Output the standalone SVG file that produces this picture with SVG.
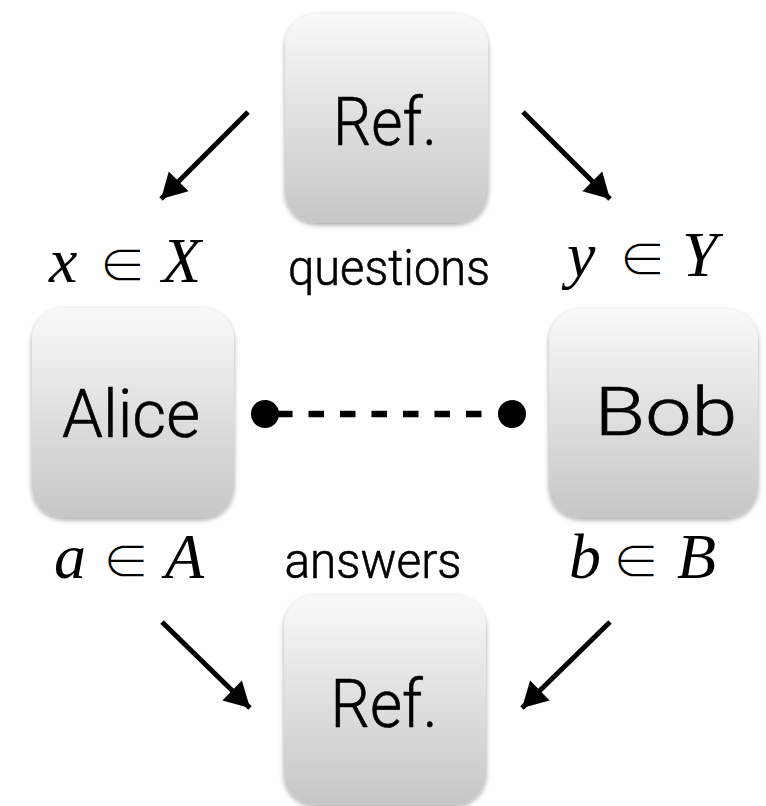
<svg xmlns="http://www.w3.org/2000/svg" width="766" height="806" viewBox="0 0 766 806">
  <defs>
    <linearGradient id="boxGrad" x1="0" y1="0" x2="0" y2="1">
      <stop offset="0" stop-color="#f9f9f9"/>
      <stop offset="1" stop-color="#c6c6c6"/>
    </linearGradient>
    <filter id="shadow" x="-10%" y="-10%" width="120%" height="125%">
      <feDropShadow dx="0" dy="2" stdDeviation="2.5" flood-color="#000" flood-opacity="0.35"/>
    </filter>
    <marker id="arrow" markerUnits="userSpaceOnUse" markerWidth="32" markerHeight="32" viewBox="0 0 32 32" refX="27" refY="16" orient="auto">
      <path d="M2,2 L27,16 L2,30 Z" fill="#000"/>
    </marker>
  </defs>
  <style>
    .box { fill: url(#boxGrad); filter: url(#shadow); }
    .label { font-family: Roboto, "Liberation Sans", sans-serif; font-weight: 300; fill: #000; stroke: #000; stroke-width: 0.6; }
    .big { font-size: 66px; }
    .small { font-size: 50px; }
    .math { font-family: "Liberation Serif", "DejaVu Serif", serif; font-style: italic; font-size: 64px; fill: #000; }
    .elem { font-family: "Noto Sans CJK JP", "DejaVu Sans", sans-serif; font-weight: 300; font-size: 47px; fill: #000; text-anchor: middle; }
    .conn { stroke: #000; stroke-width: 5; fill: none; }
  </style>

  <g id="ref-top">
    <rect class="box" x="285" y="14" width="203" height="209" rx="32"/>
    <text class="label big" x="385" y="145" text-anchor="middle" textLength="104" lengthAdjust="spacingAndGlyphs">Ref.</text>
  </g>
  <g id="alice">
    <rect class="box" x="32" y="308" width="202" height="210" rx="32"/>
    <text class="label big" x="131" y="437" text-anchor="middle" textLength="138" lengthAdjust="spacingAndGlyphs">Alice</text>
  </g>
  <g id="bob">
    <rect class="box" x="549" y="309" width="209" height="209" rx="32"/>
    <text class="label big" x="666" y="435" text-anchor="middle" textLength="143" lengthAdjust="spacingAndGlyphs">Bob</text>
  </g>
  <g id="ref-bottom">
    <rect class="box" x="284" y="595" width="202" height="210" rx="32"/>
    <text class="label big" x="384" y="727" text-anchor="middle" textLength="107" lengthAdjust="spacingAndGlyphs">Ref.</text>
  </g>

  <g id="labels">
    <text class="label small" x="389" y="285" text-anchor="middle" textLength="202" lengthAdjust="spacingAndGlyphs">questions</text>
    <text class="label small" x="373" y="578" text-anchor="middle" textLength="177" lengthAdjust="spacingAndGlyphs">answers</text>

    <text class="math" x="49" y="282">x</text>
    <text class="elem" x="122.5" y="282">∈</text>
    <text class="math" x="162" y="282">X</text>

    <text class="math" x="567" y="276">y</text>
    <text class="elem" x="642.5" y="276">∈</text>
    <text class="math" x="682" y="276">Y</text>

    <text class="math" x="54" y="578">a</text>
    <text class="elem" x="126" y="578">∈</text>
    <text class="math" x="165" y="578">A</text>

    <text class="math" x="569" y="578">b</text>
    <text class="elem" x="636" y="578">∈</text>
    <text class="math" x="677" y="578">B</text>
  </g>

  <g id="connectors">
    <line class="conn" x1="248" y1="112" x2="161" y2="199" marker-end="url(#arrow)"/>
    <line class="conn" x1="523" y1="112" x2="610" y2="199" marker-end="url(#arrow)"/>
    <line class="conn" x1="162" y1="622" x2="250" y2="708" marker-end="url(#arrow)"/>
    <line class="conn" x1="610" y1="622" x2="522" y2="708" marker-end="url(#arrow)"/>
    <line x1="277" y1="414" x2="483" y2="414" stroke="#000" stroke-width="6.5" stroke-dasharray="15.5 16"/>
    <circle cx="265" cy="414" r="14" fill="#000"/>
    <circle cx="512" cy="414" r="14" fill="#000"/>
  </g>
</svg>
